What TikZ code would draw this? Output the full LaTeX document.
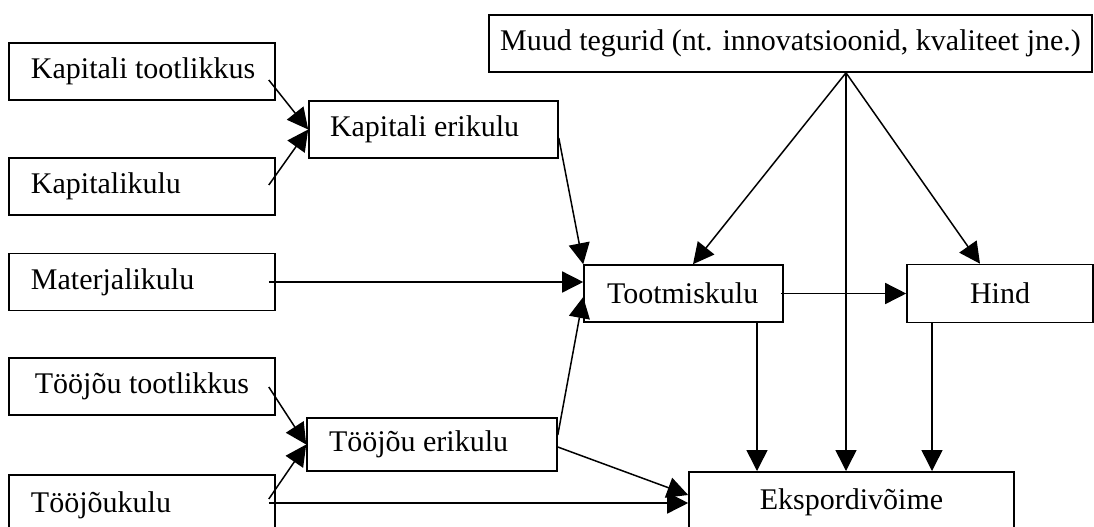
\documentclass[tikz,border=0pt]{standalone}
\usepackage{fontspec}
\setmainfont{Liberation Serif}
\usetikzlibrary{arrows.meta}
\tikzstyle{box}=[draw, line width=0.8pt, inner sep=0pt, minimum height=28.5pt, font=\fontsize{15}{18}\selectfont]
\tikzstyle{arr}=[line width=0.75pt, -{Triangle[length=10.5pt, width=10.5pt]}]

\begin{document}
\begin{tikzpicture}[x=0.5pt, y=-0.5pt]
        \clip (0,0) rectangle (1094,526);

        % Vasak tulp
        \foreach \nm/\y/\txt in {kt/71.5/Kapitali tootlikkus, kk/186.5/Kapitalikulu, mk/282/Materjalikulu}
            \node[box, inner xsep=11pt] (\nm) at (142,\y) {\makebox[111pt][l]{\txt}};
        \node[box, minimum width=133pt] (tt) at (142,386.5) {Tööjõu tootlikkus};
        \node[box, inner xsep=11pt, anchor=north, text height=19pt, text depth=20pt] (tk) at (142,474) {\makebox[111pt][l]{Tööjõukulu}};

        % Erikulud
        \node[box, inner xsep=10.5pt] (ke) at (433.5,129.5) {\makebox[103.5pt][l]{Kapitali erikulu}};
        \node[box, inner xsep=11pt, minimum height=26.5pt] (te) at (432,444.5) {\makebox[103pt][l]{Tööjõu erikulu}};

        % Parem pool
        \node[box, inner xsep=11.5pt] (tm) at (683.5,293.5) {\makebox[76.5pt][l]{Tootmiskulu}};
        \node[box, minimum width=93pt, minimum height=29pt] (hi) at (1000,293.5) {Hind};
        \node[box, minimum width=301.5pt] (mt) at (790.5,43.5) {Muud tegurid (nt. innovatsioonid, kvaliteet jne.)};
        \node[box, minimum width=162.5pt, anchor=north, text height=19pt, text depth=20pt] (ek) at (851.5,471) {Ekspordivõime};
        \coordinate (top) at ([shift={(55.5,0)}]mt.south);

        % Nooled
        \draw[arr] ([shift={(-7,8.5)}]kt.east) -- (ke.west);
        \draw[arr] ([shift={(-7,-1.5)}]kk.east) -- (ke.west);
        \draw[arr] ([shift={(-7,0)}]mk.east) -- ([shift={(0,-11.5)}]tm.west);
        \draw[arr] ([shift={(0,8.5)}]ke.east) -- (tm.north west);
        \draw[arr] ([shift={(-7,0.5)}]tt.east) -- (te.west);
        \draw[arr] ([shift={(-7,25)}]tk.north east) -- (te.west);
        \draw[arr] ([shift={(0,-9.5)}]te.east) -- ([shift={(0,3.5)}]tm.west);
        \draw[arr] ([shift={(0,2.5)}]te.east) -- ([shift={(0,24)}]ek.north west);
        \draw[arr] ([shift={(-7,29)}]tk.north east) -- ([shift={(0,32)}]ek.north west);

        \draw[arr] (top) -- ([shift={(9.5,0)}]tm.north);
        \draw[arr] (top) -- ([shift={(-5.5,0)}]ek.north);
        \draw[arr] (top) -- ([shift={(-20,0)}]hi.north);
        \draw[arr] ([shift={(-3,0)}]tm.east) -- (hi.west);
        \draw[arr] ([shift={(73.5,0)}]tm.south) -- ([shift={(-94.5,0)}]ek.north);
        \draw[arr] ([shift={(-68,0)}]hi.south) -- ([shift={(80.5,0)}]ek.north);
    \end{tikzpicture}
\end{document}
